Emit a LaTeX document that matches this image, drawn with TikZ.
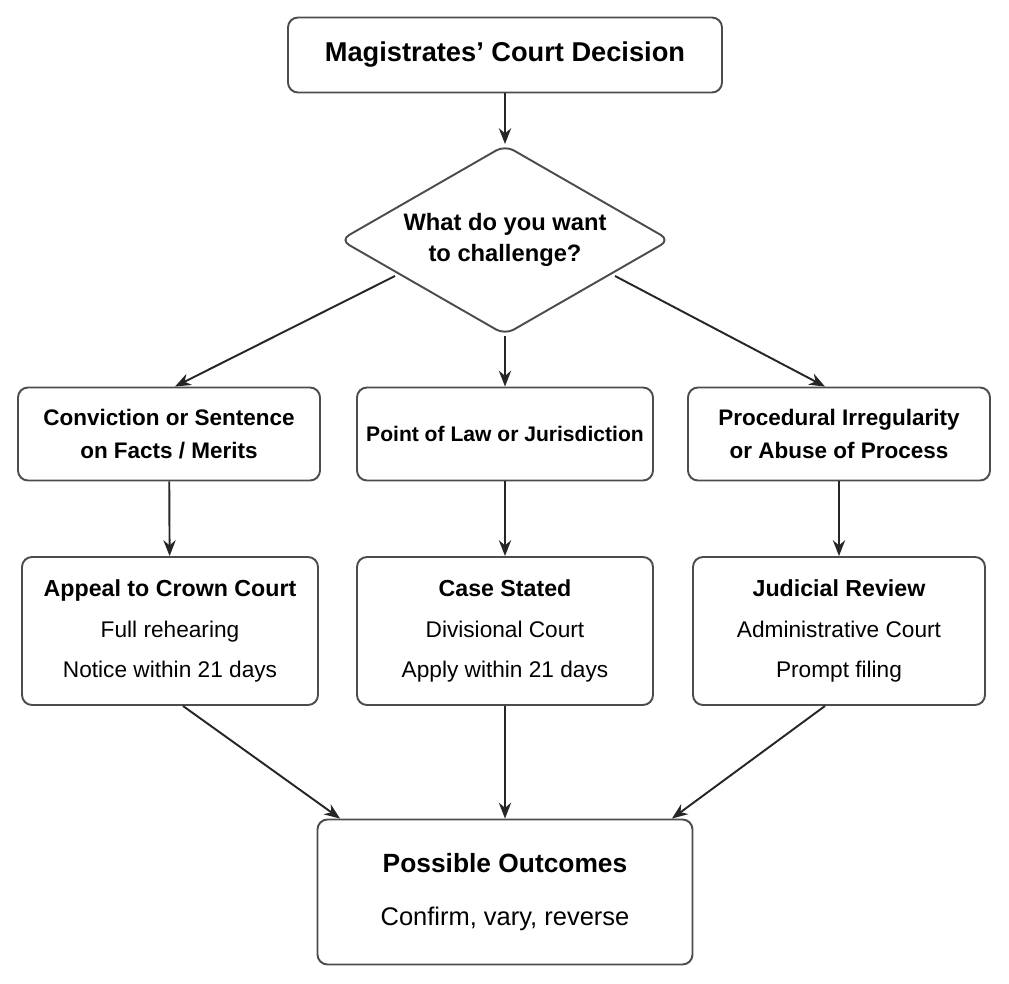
\documentclass[tikz,border=0pt]{standalone}
\usepackage{fontspec}
\setmainfont{Liberation Sans}
\usetikzlibrary{shapes.geometric,arrows.meta}
\begin{document}
\begin{tikzpicture}[x=0.02cm, y=-0.02cm,
  box/.style = {draw=black!70, line width=1.1pt, rounded corners=0.2cm, align=center, inner sep=0pt},
  link/.style = {draw=black!85, line width=1.1pt, -{Stealth[length=9pt,width=7pt]}}]
\useasboundingbox (0,0) rectangle (1009,984);
\node[box, minimum width=434*0.02cm, minimum height=75*0.02cm, font=\bfseries\fontsize{15.5}{18}\selectfont] (top) at (505,55) {Magistrates' Court Decision};
\node[draw=black!70, line width=1.1pt, diamond, aspect=1.74, minimum width=330*0.02cm, minimum height=190*0.02cm, inner sep=0pt, rounded corners=0.2cm, align=center, font=\bfseries\fontsize{13.5}{18}\selectfont] (q) at (505,240) {What do you want\\to challenge?};

\node[box, minimum width=302*0.02cm, minimum height=93*0.02cm, font=\bfseries\fontsize{12.8}{19}\selectfont] (conv) at (169,434) {Conviction or Sentence\\on Facts / Merits};
\node[box, minimum width=296*0.02cm, minimum height=93*0.02cm, font=\bfseries\fontsize{12}{19}\selectfont] (law) at (505,434) {Point of Law or Jurisdiction};
\node[box, minimum width=302*0.02cm, minimum height=93*0.02cm, font=\bfseries\fontsize{12.8}{19}\selectfont] (proc) at (839,434) {Procedural Irregularity\\or Abuse of Process};

\node[box, minimum width=296*0.02cm, minimum height=148*0.02cm, font=\fontsize{12.9}{23}\selectfont] (crown) at (170,631) {{\bfseries\fontsize{13.2}{23}\selectfont Appeal to Crown Court}\\Full rehearing\\Notice within 21 days};
\node[box, minimum width=296*0.02cm, minimum height=148*0.02cm, font=\fontsize{12.9}{23}\selectfont] (case) at (505,631) {{\bfseries\fontsize{13.2}{23}\selectfont Case Stated}\\Divisional Court\\Apply within 21 days};
\node[box, minimum width=292*0.02cm, minimum height=148*0.02cm, font=\fontsize{12.9}{23}\selectfont] (jr) at (839,631) {{\bfseries\fontsize{13.2}{23}\selectfont Judicial Review}\\Administrative Court\\Prompt filing};

\node[box, minimum width=375*0.02cm, minimum height=145*0.02cm, font=\fontsize{14.5}{30}\selectfont] (out) at (505,892) {{\bfseries\fontsize{15}{30}\selectfont Possible Outcomes}\\Confirm, vary, reverse};

\draw[link] (top) -- (q);
\draw[link] ([shift={(-0.54cm,0.24cm)}]q.south west) -- ([xshift=0.12cm]conv.north);
\draw[link] (q) -- (law);
\draw[link] ([shift={(0.54cm,0.24cm)}]q.south east) -- ([xshift=-0.28cm]proc.north);
\foreach \a/\b in {conv/crown, law/case, proc/jr}
  \draw[link] (\a) -- (\b);
\draw[link] ([xshift=0.26cm]crown.south) -- ([xshift=-3.3cm]out.north);
\draw[link] (case) -- (out);
\draw[link] ([xshift=-0.28cm]jr.south) -- ([xshift=3.34cm]out.north);
\end{tikzpicture}
\end{document}
